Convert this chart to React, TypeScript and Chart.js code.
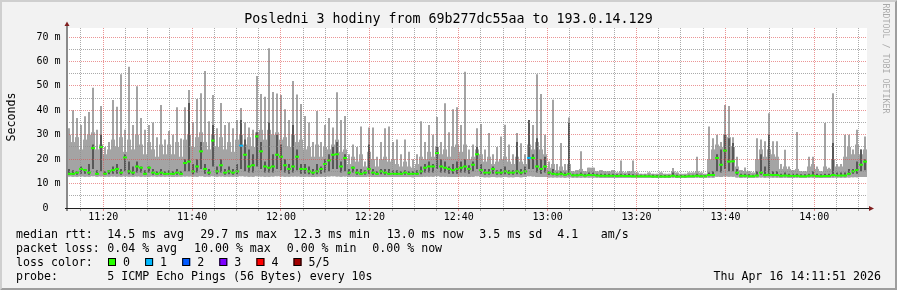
import React, { useEffect, useRef } from "react";
import { Chart, registerables } from "chart.js";

Chart.register(...registerables);

const W = 897;
const H = 290;

// time axis: 3 hours ending 14:11:51 (minutes of day)
const startMinute = 671.85;
const endMinute = 851.85;
const majorTickMinutes = [680, 700, 720, 740, 760, 780, 800, 820, 840];
const majorTickLabels = ["11:20", "11:40", "12:00", "12:20", "12:40", "13:00", "13:20", "13:40", "14:00"];

// y axis (seconds, shown in milli)
const yMax = 73.7;
const yMajorValues = [0, 10, 20, 30, 40, 50, 60, 70];
const yTickLabels = ["0  ", "10 m", "20 m", "30 m", "40 m", "50 m", "60 m", "70 m"];

// 200 columns, each ~54 s; values in ms
// highest ping in the column (thin spike)
const smokeMax = [
  32.7, 40, 36.8, 34, 37.6, 39.3, 49.2, 32, 41.8, 25, 27, 44.2, 41.5, 54.8, 32, 57.8, 34, 49.9, 36.8, 32, 34, 35, 29, 42.2, 28,
  31.5, 30, 41.3, 28.5, 41.3, 48.3, 35, 44.6, 47, 56.1, 35.5, 46.3, 32.7, 43, 34, 35, 32.7, 36, 40.9, 35, 33, 32, 54, 46.7, 45.6,
  65.4, 47.5, 46.9, 46.3, 40.4, 36, 52, 46.5, 42.6, 37.7, 35, 27, 39.7, 27, 34, 36.8, 33, 47.4, 36, 37.7, 22, 26, 25, 33.4, 19,
  33, 33, 21, 27, 32.7, 33.4, 27, 28, 22, 28, 23, 20, 22, 35.5, 27, 34, 30, 37.3, 27, 42.9, 31, 40.4, 41.3, 34, 55.8,
  24, 26, 32.7, 34.4, 24, 30.7, 22, 25, 29.3, 34.1, 26, 22, 30.7, 26.5, 22, 36, 34, 54.8, 46.7, 30, 19, 44.3, 18, 26.6, 18,
  37.1, 15, 15.5, 23.2, 15, 16.5, 16.5, 15, 15.5, 15, 15, 15.5, 14.5, 19.4, 14.5, 15, 19.4, 14.5, 14, 14, 14.5, 14, 14, 14.5, 14,
  14, 16.4, 14.5, 14, 14, 14.5, 14.5, 21, 14.5, 14, 33.4, 28.6, 30, 27, 42.2, 41.8, 29, 21, 15.5, 16.6, 15, 14.5, 28.6, 28, 27.3,
  38.8, 27.3, 27.3, 18, 23.9, 17, 15.5, 31.1, 15, 15, 21, 21, 17, 15, 34.8, 16.5, 47, 18, 18, 30, 30, 24, 32, 24, 29.3,
];

// upper edge of the dense outer smoke in the column
const smokeBody = [
  30, 27, 29, 24, 28, 30, 31, 24, 26, 22, 24, 28, 25, 29, 23, 28, 24, 30, 26, 22, 27, 24, 21, 26, 22,
  26, 22, 27, 21, 28, 30, 25, 29, 31, 27, 24, 30, 25, 29, 24, 27, 23, 28, 30, 26, 29, 25, 31, 32, 28,
  32, 30, 31, 28, 29, 25, 30, 27, 28, 24, 25, 21, 26, 21, 25, 24, 26, 28, 23, 24, 18, 21, 19, 22, 17,
  23, 20, 17, 20, 21, 19, 20, 18, 17, 19, 17, 16.5, 18, 21, 20, 23, 21, 25, 22, 24, 21, 25, 26, 23, 26,
  20, 21, 24, 22, 19, 21, 18, 19, 20, 21, 19, 18, 21, 19, 18, 26, 24, 27, 24, 22, 16.5, 18, 15.5, 17, 15.5,
  18, 15, 15.5, 16, 15, 16.5, 16.5, 15, 15.5, 15, 15, 15.5, 14.5, 15, 14.5, 15, 15, 14.5, 14, 14, 14.5, 14, 14, 14.5, 14,
  14, 15, 14.5, 14, 14, 14.5, 14.5, 15, 14.5, 14, 20, 24, 26, 25, 30, 29, 25, 17, 15.5, 15, 15, 14.5, 20, 24, 21,
  24, 22, 21, 16, 17, 16, 15.5, 16, 15, 15, 17, 18, 16, 15, 17, 16, 20, 17, 17, 21, 25, 22, 26, 22, 24,
];

// 4th of 5 sorted pings
const smokeHi = [
  16, 15.5, 15, 17, 16, 18, 26, 15.5, 30, 15, 15.5, 17, 18, 16, 22, 19, 17, 19, 17, 15.5, 17, 16, 15, 16, 15,
  15.5, 15, 16, 15, 20, 43, 18, 20, 27, 18, 16, 34, 17, 20, 16, 17, 16, 18, 36, 28, 24, 22, 31, 27, 19,
  35, 22, 30, 26, 20, 18, 34, 24, 18, 18, 17, 16, 18, 17, 20, 22, 25, 27, 19, 22, 16, 17, 16, 16, 15.5,
  26, 16, 15, 16, 16, 16, 15.5, 15.5, 15, 15.5, 15, 15, 15.5, 17, 18, 19, 18, 25, 20, 19, 17, 18, 19, 19, 20,
  17.5, 19, 25, 18, 16, 16, 17, 15.5, 16, 17, 15.5, 15.5, 27, 16, 17, 36, 22, 28.6, 20, 21, 15, 16, 14.5, 15, 14.5,
  34.8, 14, 14, 14.5, 14, 14.5, 14.5, 14, 14, 14, 14, 14, 13.8, 14, 13.8, 14, 13.8, 13.6, 13.6, 13.6, 13.6, 13.6, 13.5, 13.5, 13.5,
  13.5, 14.5, 13.6, 13.5, 13.5, 13.6, 13.6, 14, 13.6, 13.5, 14.5, 15, 22, 24, 30, 28.6, 26.6, 16, 14, 14, 13.8, 13.6, 15, 22, 17,
  30, 15, 15, 14, 14.5, 14, 14, 14, 13.8, 13.8, 14, 15, 14, 13.8, 14, 14, 26.6, 14.5, 14.5, 14.5, 16, 16, 19, 24, 20,
];

const median = [
  14, 14, 14.5, 16, 15.5, 14.5, 24.5, 14, 25, 14, 15, 15.5, 16, 14.5, 20.7, 15, 14.5, 17, 16.5, 14, 16.5, 14.5, 14, 14.5, 14,
  14, 14, 14.5, 14, 18.4, 19, 15, 17, 23.2, 16, 14.5, 27.6, 15, 17.5, 14.5, 15, 14.5, 15, 25.5, 21.8, 17, 17.5, 29.3, 23.2, 17,
  16.5, 17, 21.8, 21, 17.5, 16, 17, 21, 16, 16, 15, 14.5, 15, 16, 18, 19.5, 21.8, 22, 17, 20.5, 14.5, 16.5, 14.5, 14, 14.5,
  16, 14.5, 14, 15, 14.5, 14, 14, 14, 14, 14.5, 14, 14, 14, 15, 16.5, 17, 17, 22.5, 17, 16.5, 16, 15.5, 16, 16.5, 17,
  16, 17.7, 22, 15.5, 14.5, 14.5, 16, 14.5, 14.5, 15, 14.5, 14.5, 15, 14.5, 15, 20.5, 20.5, 17, 16, 17, 14.5, 14, 13.8, 14, 13.6,
  14, 13.4, 13.4, 13.6, 13.3, 13.5, 13.5, 13.3, 13.2, 13.2, 13.2, 13.2, 13.1, 13.2, 13.1, 13.1, 13, 13, 13, 13, 13, 12.9, 12.9, 12.9, 12.9,
  12.9, 13.2, 12.9, 12.9, 12.9, 13, 13, 13.2, 13, 13, 13.5, 13.5, 20.5, 17.7, 23.5, 19, 19.1, 14.5, 13.2, 13.2, 13, 13, 13.3, 14.5, 13.5,
  13.6, 13.5, 13.5, 13.2, 13.3, 13.2, 13.1, 13.2, 13, 13, 13.2, 13.3, 13.1, 13, 13.1, 13.1, 13.5, 13.3, 13.3, 13.3, 14, 15, 15.5, 17.7, 19,
];

// 2nd of 5 sorted pings
const smokeLo = [
  13.5, 13.5, 13.6, 14, 14, 13.6, 16, 13.5, 15, 13.5, 13.8, 14, 14, 13.6, 15, 13.8, 13.6, 14.5, 14.5, 13.5, 14.5, 13.6, 13.5, 13.6, 13.5,
  13.5, 13.5, 13.6, 13.5, 15, 15, 13.8, 14.5, 16, 14, 13.6, 17, 13.8, 14.5, 13.6, 13.8, 13.6, 13.8, 16, 15, 14.5, 14.5, 17, 16, 14.5,
  14.5, 14.5, 16, 15.5, 14.5, 14, 14.5, 15.5, 14, 14, 13.8, 13.6, 13.8, 14, 14.5, 15, 16, 16, 14.5, 15, 13.6, 14.5, 13.6, 13.5, 13.6,
  14, 13.6, 13.5, 13.8, 13.6, 13.5, 13.5, 13.5, 13.5, 13.6, 13.5, 13.5, 13.5, 13.8, 14.5, 14.5, 14.5, 16, 14.5, 14.5, 14, 14, 14, 14.5, 14.5,
  14, 15, 16, 14, 13.6, 13.6, 14, 13.6, 13.6, 13.8, 13.6, 13.6, 13.8, 13.6, 13.8, 16, 16, 14.5, 14, 14.5, 13.6, 13.4, 13.3, 13.4, 13.2,
  13.4, 13, 13, 13.2, 13, 13.1, 13.1, 13, 12.9, 12.9, 12.9, 12.9, 12.8, 12.9, 12.8, 12.8, 12.7, 12.7, 12.7, 12.7, 12.7, 12.6, 12.6, 12.6, 12.6,
  12.6, 12.9, 12.6, 12.6, 12.6, 12.7, 12.7, 12.9, 12.7, 12.7, 13, 13, 15, 14.5, 16, 15, 15, 13.6, 12.9, 12.9, 12.7, 12.7, 13, 13.6, 13,
  13.1, 13, 13, 12.9, 13, 12.9, 12.8, 12.9, 12.7, 12.7, 12.9, 13, 12.8, 12.7, 12.8, 12.8, 13, 13, 13, 13, 13.4, 14, 14, 15, 15.5,
];

// lowest ping in the column
const smokeMin = [
  12.9, 12.8, 12.8, 12.9, 12.8, 12.8, 13, 12.8, 12.9, 12.8, 12.8, 12.9, 12.8, 12.8, 12.9, 12.8, 12.8, 12.9, 12.8, 12.8, 12.8, 12.9, 12.8, 12.8, 12.8,
  12.8, 12.7, 12.8, 12.8, 12.9, 12.9, 12.8, 12.8, 13, 12.8, 12.8, 13, 12.8, 12.9, 12.8, 12.8, 12.8, 12.8, 13, 12.9, 12.8, 12.8, 13, 12.9, 12.8,
  12.8, 12.9, 13, 12.9, 12.8, 12.8, 12.9, 12.9, 12.8, 12.8, 12.8, 12.7, 12.8, 12.8, 12.8, 12.9, 13, 12.9, 12.8, 12.9, 12.7, 12.8, 12.7, 12.7, 12.7,
  12.8, 12.7, 12.7, 12.7, 12.7, 12.7, 12.7, 12.7, 12.7, 12.7, 12.7, 12.6, 12.7, 12.7, 12.8, 12.8, 12.8, 13, 12.8, 12.8, 12.7, 12.7, 12.7, 12.8, 12.8,
  12.7, 12.8, 13, 12.7, 12.6, 12.6, 12.7, 12.6, 12.6, 12.7, 12.6, 12.6, 12.7, 12.6, 12.7, 13, 12.9, 12.7, 12.7, 12.7, 12.5, 12.5, 12.5, 12.5, 12.4,
  12.5, 12.4, 12.4, 12.4, 12.4, 12.4, 12.4, 12.4, 12.3, 12.3, 12.3, 12.3, 12.3, 12.3, 12.3, 12.3, 12.3, 12.3, 12.3, 12.3, 12.3, 12.3, 12.3, 12.3, 12.3,
  12.3, 12.4, 12.3, 12.3, 12.3, 12.3, 12.3, 12.4, 12.3, 12.3, 12.4, 12.4, 12.8, 12.7, 12.9, 12.8, 12.8, 12.5, 12.3, 12.4, 12.3, 12.3, 12.4, 12.5, 12.4,
  12.4, 12.4, 12.4, 12.3, 12.4, 12.3, 12.3, 12.4, 12.3, 12.3, 12.4, 12.4, 12.3, 12.3, 12.3, 12.3, 12.4, 12.4, 12.4, 12.4, 12.5, 12.6, 12.6, 12.7, 12.7,
];

// columns whose median was measured with 1 of 5 pings lost
const lossOneColumns = [43, 115];

const lossColors = ["#26ff00", "#00b8ff", "#0059ff", "#7e00ff", "#ff0000", "#a10000"];
const lossLabels = ["0", "1", "2", "3", "4", "5/5"];

const titleText = "Posledni 3 hodiny from 69b277dc55aa to 193.0.14.129";
const rttLine = ["median rtt:", "14.5 ms avg", "29.7 ms max", "12.3 ms min", "13.0 ms now", "3.5 ms sd", "4.1", "am/s"];
const lossLine = ["packet loss:", "0.04 % avg", "10.00 % max", "0.00 % min", "0.00 % now"];
const probeLine = ["probe:", "5 ICMP Echo Pings (56 Bytes) every 10s"];
const dateText = "Thu Apr 16 14:11:51 2026";

const MONO = "'DejaVu Sans Mono', monospace";
const MINOR_GRID = "rgba(143,143,143,0.75)";
const MAJOR_GRID = "rgba(222,79,79,0.6)";

const minorTickMinutes: number[] = [];
for (let m = 675; m <= 850; m += 5) minorTickMinutes.push(m);
const yGridValues: number[] = [];
for (let v = 0; v <= 70; v += 5) yGridValues.push(v);

const decor = {
  id: "decor",
  beforeDraw(chart: any) {
    const { ctx, chartArea: a } = chart;
    ctx.save();
    ctx.fillStyle = "#f2f2f2";
    ctx.fillRect(0, 0, W, H);
    ctx.fillStyle = "#cfcfcf";
    ctx.beginPath();
    ctx.moveTo(0, 0); ctx.lineTo(W, 0); ctx.lineTo(W - 2, 2); ctx.lineTo(2, 2); ctx.lineTo(2, H - 2); ctx.lineTo(0, H);
    ctx.closePath(); ctx.fill();
    ctx.fillStyle = "#9e9e9e";
    ctx.beginPath();
    ctx.moveTo(W, 0); ctx.lineTo(W, H); ctx.lineTo(0, H); ctx.lineTo(2, H - 2); ctx.lineTo(W - 2, H - 2); ctx.lineTo(W - 2, 2);
    ctx.closePath(); ctx.fill();
    ctx.fillStyle = "#ffffff";
    ctx.fillRect(a.left, a.top, a.right - a.left, a.bottom - a.top);
    ctx.restore();
  },
  afterDraw(chart: any) {
    const { ctx, chartArea: a } = chart;
    ctx.save();
    // axes
    ctx.fillStyle = "#8a8a8a";
    ctx.fillRect(a.left - 1, a.top - 2, 2, a.bottom - a.top + 5);
    ctx.fillStyle = "#1f1f1f";
    ctx.fillRect(a.left - 2, a.bottom, a.right - a.left + 4, 1);
    // arrows
    ctx.fillStyle = "#801f1f";
    ctx.beginPath();
    ctx.moveTo(a.left, a.top - 6.5); ctx.lineTo(a.left - 2.5, a.top - 2); ctx.lineTo(a.left + 2.5, a.top - 2);
    ctx.closePath(); ctx.fill();
    ctx.beginPath();
    ctx.moveTo(a.right + 7, a.bottom + 0.5); ctx.lineTo(a.right + 2, a.bottom - 2); ctx.lineTo(a.right + 2, a.bottom + 3);
    ctx.closePath(); ctx.fill();

    // title
    ctx.fillStyle = "#000";
    ctx.textBaseline = "alphabetic";
    ctx.font = `13.3px ${MONO}`;
    ctx.textAlign = "center";
    ctx.fillText(titleText, 448.5, 23.3);

    // y title
    ctx.font = `11.6px ${MONO}`;
    ctx.save();
    ctx.translate(15.3, 117);
    ctx.rotate(-Math.PI / 2);
    ctx.textAlign = "center";
    ctx.fillText("Seconds", 0, 0);
    ctx.restore();

    // watermark
    ctx.save();
    ctx.font = `8.3px ${MONO}`;
    ctx.fillStyle = "rgba(0,0,0,0.3)";
    ctx.translate(883.3, 3.5);
    ctx.rotate(Math.PI / 2);
    ctx.textAlign = "left";
    ctx.fillText("RRDTOOL / TOBI OETIKER", 0, 0);
    ctx.restore();

    // legend
    ctx.font = `11.6px ${MONO}`;
    ctx.textAlign = "left";
    ctx.fillStyle = "#000";
    const rttX = [16, 107.3, 200.3, 293.3, 386.7, 479.3, 557.3, 600.7];
    rttLine.forEach((t, i) => ctx.fillText(t, rttX[i], 238));
    const lossX = [16, 107.3, 194, 286.7, 372.3];
    lossLine.forEach((t, i) => ctx.fillText(t, lossX[i], 252));
    ctx.fillText("loss color:", 16, 266);
    lossLabels.forEach((t, i) => {
      const bx = 108 + i * 37.1;
      ctx.fillStyle = lossColors[i];
      ctx.fillRect(bx, 258, 8, 8);
      ctx.strokeStyle = "#000";
      ctx.lineWidth = 1;
      ctx.strokeRect(bx + 0.5, 258.5, 7, 7);
      ctx.fillStyle = "#000";
      ctx.fillText(t, bx + 15, 266);
    });
    const probeX = [16, 107.3];
    probeLine.forEach((t, i) => ctx.fillText(t, probeX[i], 280));
    ctx.textAlign = "right";
    ctx.fillText(dateText, 881, 280);
    ctx.restore();
  },
};

export default function App() {
  const ref = useRef<HTMLCanvasElement | null>(null);

  useEffect(() => {
    if (!ref.current) return;
    const band = yMax / 180;
    const labels = smokeMax.map((_, i) => i);
    const medianColors = median.map((_, i) => (lossOneColumns.includes(i) ? lossColors[1] : lossColors[0]));
    const barCommon = {
      xAxisID: "x",
      yAxisID: "y",
      grouped: false,
      barPercentage: 1,
      categoryPercentage: 1,
      borderWidth: 0,
      borderSkipped: false,
      inflateAmount: 0,
    };
    const chart = new Chart(ref.current, {
      type: "bar",
      data: {
        labels,
        datasets: [
          { ...barCommon, label: "median", data: median.map((m) => [m - band, m + band]), backgroundColor: medianColors },
          { ...barCommon, label: "inner", barPercentage: 0.5, data: smokeLo.map((v, i) => [v, smokeHi[i]]), backgroundColor: "#585858" },
          { ...barCommon, label: "outer peak", barPercentage: 0.5, data: smokeMin.map((v, i) => [v, smokeMax[i]]), backgroundColor: "#a4a4a4" },
          { ...barCommon, label: "outer", data: smokeMin.map((v, i) => [v, smokeBody[i]]), backgroundColor: "#a4a4a4" },
        ] as any,
      },
      options: {
        responsive: false,
        animation: false,
        devicePixelRatio: 1,
        events: [],
        layout: { padding: { left: 0, right: 30, top: 28, bottom: 0 } },
        plugins: { legend: { display: false }, tooltip: { enabled: false }, title: { display: false } },
        scales: {
          x: { type: "category", display: false, offset: true },
          xt: {
            type: "linear",
            position: "bottom",
            offset: false,
            min: startMinute,
            max: endMinute,
            afterBuildTicks: (s: any) => {
              s.ticks = minorTickMinutes.map((v) => ({ value: v }));
            },
            afterFit: (s: any) => {
              s.height = 82;
            },
            grid: {
              z: 1,
              offset: false,
              lineWidth: 1,
              drawTicks: true,
              tickLength: 3,
              color: (c: any) => (majorTickMinutes.includes(c.tick?.value) ? MAJOR_GRID : MINOR_GRID),
              tickColor: (c: any) => (majorTickMinutes.includes(c.tick?.value) ? MAJOR_GRID : MINOR_GRID),
            },
            border: { display: false, dash: [1, 1] },
            ticks: {
              autoSkip: false,
              maxRotation: 0,
              minRotation: 0,
              padding: 0,
              color: "#000",
              font: { family: MONO, size: 10 },
              callback: (v: any) => {
                const idx = majorTickMinutes.indexOf(Math.round(Number(v)));
                return idx >= 0 ? majorTickLabels[idx] : "";
              },
            },
          },
          y: {
            type: "linear",
            position: "left",
            min: 0,
            max: yMax,
            afterBuildTicks: (s: any) => {
              s.ticks = yGridValues.map((v) => ({ value: v }));
            },
            afterFit: (s: any) => {
              s.width = 67;
            },
            grid: {
              z: 1,
              lineWidth: 1,
              drawTicks: false,
              color: (c: any) => {
                const v = c.tick?.value;
                if (v === 0) return "rgba(0,0,0,0)";
                return v % 10 === 0 ? MAJOR_GRID : MINOR_GRID;
              },
            },
            border: { display: false, dash: [1, 1] },
            ticks: {
              autoSkip: false,
              padding: 6.5,
              color: "#000",
              font: { family: MONO, size: 10 },
              callback: (v: any) => {
                const idx = yMajorValues.indexOf(Number(v));
                return idx >= 0 ? yTickLabels[idx] : "";
              },
            },
          },
        } as any,
      },
      plugins: [decor],
    } as any);
    return () => chart.destroy();
  }, []);

  return (
    <div style={{ position: "fixed", left: 0, top: 0, width: W, height: H }}>
      <canvas ref={ref} width={W} height={H} style={{ display: "block", width: W, height: H }} />
    </div>
  );
}
